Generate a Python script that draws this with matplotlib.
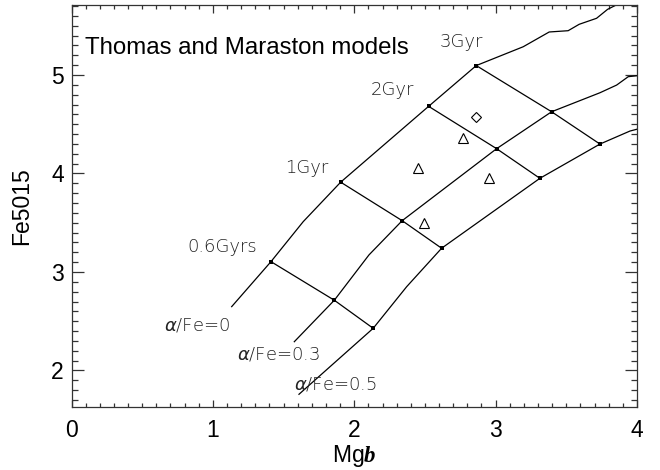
import numpy as np
import matplotlib
matplotlib.use("Agg")
import matplotlib.pyplot as plt
from matplotlib.ticker import MultipleLocator

plt.rcParams['font.family'] = ['Liberation Sans', 'DejaVu Sans']
plt.rcParams['mathtext.fontset'] = 'custom'
plt.rcParams['mathtext.rm'] = 'Liberation Sans'
plt.rcParams['mathtext.it'] = 'DejaVu Sans:italic'
plt.rcParams['mathtext.bfit'] = 'Liberation Serif:italic:bold'

# model grids (Mgb, Fe5015) for each alpha/Fe, nodes marked at 0.6,1,2,3 Gyr
mgb_a00 = [1.133, 1.411, 1.639, 1.904, 2.526, 2.863, 3.195, 3.379, 3.513, 3.591, 3.714, 3.792, 3.867]
fe_a00 = [2.648, 3.105, 3.511, 3.912, 4.682, 5.096, 5.287, 5.437, 5.450, 5.515, 5.576, 5.667, 5.721]
mgb_a03 = [1.576, 1.859, 2.104, 2.339, 3.007, 3.396, 3.738, 3.856, 3.938, 4.000]
fe_a03 = [2.292, 2.713, 3.173, 3.521, 4.252, 4.627, 4.820, 4.898, 4.983, 4.993]
mgb_a05 = [1.609, 2.134, 2.371, 2.618, 3.313, 3.738, 3.950, 4.006]
fe_a05 = [1.758, 2.428, 2.851, 3.241, 3.951, 4.299, 4.431, 4.452]
node_idx = [1, 3, 4, 5]   # same position in every track

age_labels = ['0.6Gyrs', '1Gyr', '2Gyr', '3Gyr']
alpha_labels = [r'$\alpha$/Fe=0', r'$\alpha$/Fe=0.3', r'$\alpha$/Fe=0.5']

# galaxies
tri_mgb = [2.453, 2.771, 2.953, 2.493]
tri_fe = [4.059, 4.357, 3.951, 3.500]
dia_mgb = [2.861]
dia_fe = [4.571]

fig = plt.figure(figsize=(6.6, 4.7), dpi=100)
ax = fig.add_axes([71.5/660, 1-406.7/470, (637-71.5)/660, (406.7-5)/470])

tracks = [(mgb_a00, fe_a00), (mgb_a03, fe_a03), (mgb_a05, fe_a05)]
for mx, fy in tracks:
    ax.plot(mx, fy, color='black', lw=0.9)
    ax.plot([mx[i] for i in node_idx], [fy[i] for i in node_idx], 's',
            color='black', ms=2.6, mew=0)

# isochrones across the alpha/Fe tracks
for k in node_idx:
    ax.plot([t[0][k] for t in tracks], [t[1][k] for t in tracks],
            color='black', lw=0.9)

ax.plot(tri_mgb, tri_fe, '^', mfc='none', mec='black', ms=7.8, mew=0.8)
ax.plot(dia_mgb, dia_fe, 'D', mfc='none', mec='black', ms=5.4, mew=0.8)

lab_kw = dict(fontsize=13, family='DejaVu Sans', fontweight='light',
              color='#222222', ha='center', va='center')
age_pos = [(1.068, 3.257), (1.663, 4.053), (2.270, 4.848), (2.754, 5.338)]
for s, (x, y) in zip(age_labels, age_pos):
    ax.text(x, y, s, **lab_kw)
alpha_pos = [(0.888, 2.452), (1.464, 2.157), (1.864, 1.860)]
for s, (x, y) in zip(alpha_labels, alpha_pos):
    ax.text(x, y, s, **lab_kw)

ax.text(0.095, 5.274, 'Thomas and Maraston models', fontsize=17.3,
        ha='left', va='center')

ax.set_xlim(0, 4)
ax.set_ylim(1.632, 5.711)
ax.xaxis.set_major_locator(MultipleLocator(1))
ax.xaxis.set_minor_locator(MultipleLocator(0.1))
ax.yaxis.set_major_locator(MultipleLocator(1))
ax.yaxis.set_minor_locator(MultipleLocator(0.1))
ax.tick_params(which='both', direction='in', top=True, right=True,
               width=0.9, color='#333333', labelsize=16.5)
ax.tick_params(axis='x', which='major', length=5.4, pad=9)
ax.tick_params(axis='x', which='minor', length=2.9)
ax.tick_params(axis='y', which='major', length=8.4, pad=5.5)
ax.tick_params(axis='y', which='minor', length=4.0)
for sp in ax.spines.values():
    sp.set_linewidth(0.9)
    sp.set_color('#333333')

ax.set_xlabel(r'Mg$\mathbfit{b}$', fontsize=16.5)
ax.set_ylabel('Fe5015', fontsize=16.5)
ax.xaxis.set_label_coords(0.5, -0.09)
ax.yaxis.set_label_coords(-0.068, 0.5)

fig.savefig('out.png', dpi=100)
